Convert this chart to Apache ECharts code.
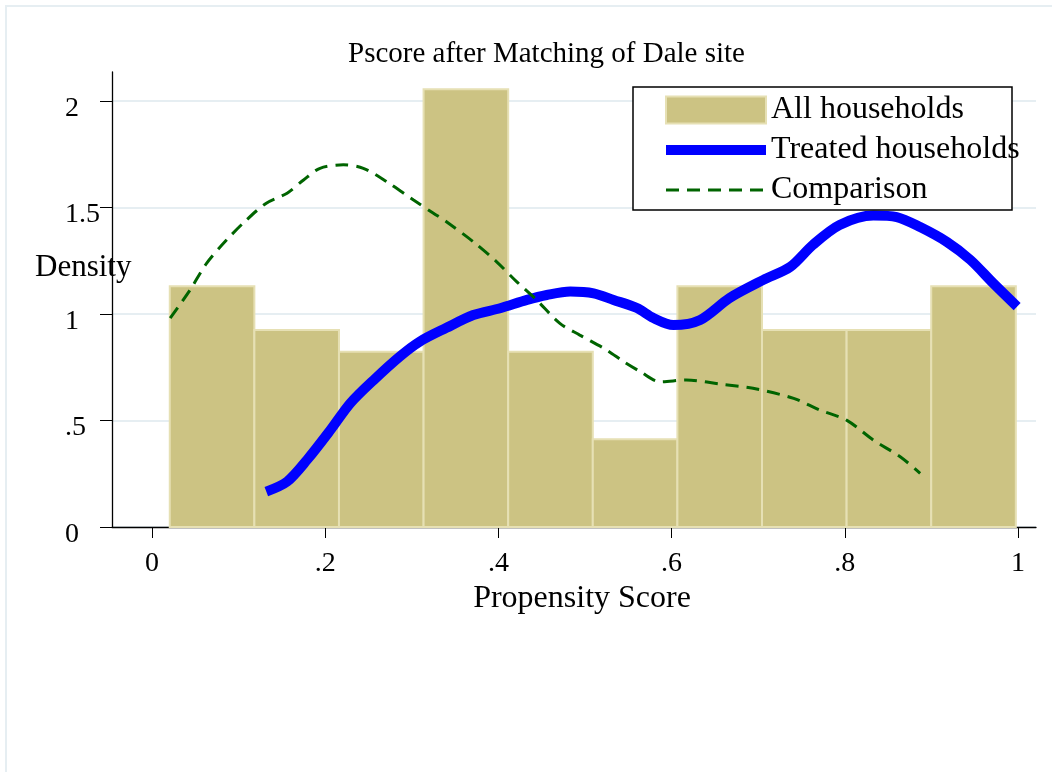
<!DOCTYPE html>
<html>
<head>
<meta charset="utf-8">
<script src="https://cdn.jsdelivr.net/npm/echarts@6/dist/echarts.min.js"></script>
<style>
  html, body { margin: 0; padding: 0; background: #ffffff; }
  #chart { width: 1052px; height: 772px; }
</style>
</head>
<body>
<div id="chart"></div>
<script>
// Histogram of the propensity score (10 bins, density scale)
const binEdges = [0.0205, 0.1182, 0.2159, 0.3136, 0.4113, 0.5090, 0.6067, 0.7044, 0.8021, 0.8998, 0.9975];
const binDensity = [1.13, 0.925, 0.823, 2.055, 0.823, 0.412, 1.13, 0.925, 0.925, 1.13];

// Kernel density of the score among treated households
const treatedCurve = [
  [0.132, 0.166], [0.156, 0.213], [0.179, 0.315], [0.206, 0.455], [0.229, 0.581],
  [0.256, 0.690], [0.286, 0.800], [0.309, 0.870], [0.340, 0.935], [0.371, 0.995],
  [0.402, 1.027], [0.433, 1.066], [0.456, 1.089], [0.483, 1.105], [0.510, 1.097],
  [0.533, 1.066], [0.560, 1.028], [0.579, 0.981], [0.602, 0.948], [0.633, 0.972],
  [0.667, 1.075], [0.706, 1.160], [0.737, 1.221], [0.763, 1.324], [0.794, 1.418],
  [0.833, 1.462], [0.860, 1.455], [0.887, 1.408], [0.918, 1.338], [0.945, 1.254],
  [0.971, 1.146], [0.999, 1.035]
];

// Kernel density of the score among comparison households
const comparisonCurve = [
  [0.021, 0.980], [0.044, 1.113], [0.063, 1.238], [0.086, 1.347], [0.109, 1.441],
  [0.132, 1.520], [0.156, 1.567], [0.175, 1.629], [0.194, 1.684], [0.221, 1.700],
  [0.244, 1.684], [0.271, 1.621], [0.302, 1.535], [0.325, 1.473], [0.340, 1.433],
  [0.371, 1.339], [0.398, 1.245], [0.421, 1.152], [0.444, 1.066], [0.471, 0.956],
  [0.494, 0.901], [0.525, 0.831], [0.545, 0.775], [0.564, 0.729], [0.587, 0.682],
  [0.617, 0.690], [0.656, 0.671], [0.694, 0.651], [0.741, 0.604], [0.771, 0.549],
  [0.802, 0.502], [0.833, 0.408], [0.864, 0.330], [0.887, 0.252]
];

const xTicks = [0, 0.2, 0.4, 0.6, 0.8, 1];
const xTickLabels = ['0', '.2', '.4', '.6', '.8', '1'];
const yTicks = [0, 0.5, 1, 1.5, 2];
const yTickLabels = ['0', '.5', '1', '1.5', '2'];

const FONT = 'Liberation Serif, Times New Roman, serif';
const BAR_FILL = '#ccc383';
const BAR_EDGE = '#e6e0b4';
const GRID_COLOR = '#e6eef2';

function labelFor(ticks, labels) {
  return function (v) {
    for (let i = 0; i < ticks.length; i++) {
      if (Math.abs(ticks[i] - v) < 1e-6) return labels[i];
    }
    return '';
  };
}

const histData = binDensity.map((d, i) => [binEdges[i], binEdges[i + 1], d]);

const chart = echarts.init(document.getElementById('chart'), null, { renderer: 'canvas' });

chart.setOption({
  backgroundColor: '#ffffff',
  animation: false,
  title: {
    text: 'Pscore after Matching of Dale site',
    left: 348,
    top: 40,
    padding: 0,
    textStyle: { fontFamily: FONT, fontSize: 29, fontWeight: 'normal', color: '#000' }
  },
  grid: { left: 112, right: 16, top: 72, bottom: 245, containLabel: false },
  xAxis: {
    type: 'value',
    min: -0.0462,
    max: 1.0208,
    name: 'Propensity Score',
    nameLocation: 'middle',
    nameGap: 41,
    nameTextStyle: { fontFamily: FONT, fontSize: 32, color: '#000', padding: [0, 0, 0, 16] },
    axisLine: { show: true, onZero: false, lineStyle: { color: '#000', width: 1.3 } },
    axisTick: { show: true, inside: false, length: 11, customValues: xTicks, lineStyle: { color: '#000', width: 1 } },
    axisLabel: {
      customValues: xTicks,
      margin: 23,
      fontFamily: FONT, fontSize: 28, color: '#000',
      formatter: labelFor(xTicks, xTickLabels)
    },
    splitLine: { show: false }
  },
  yAxis: {
    type: 'value',
    min: 0,
    max: 2.136,
    axisLine: { show: true, onZero: false, lineStyle: { color: '#000', width: 1.3 } },
    axisTick: { show: true, inside: false, length: 12, customValues: yTicks, lineStyle: { color: '#000', width: 1 } },
    axisLabel: {
      customValues: yTicks,
      margin: 47,
      align: 'left',
      verticalAlign: 'top',
      lineHeight: 15,
      fontFamily: FONT, fontSize: 28, color: '#000',
      formatter: labelFor(yTicks, yTickLabels)
    },
    splitLine: { show: true, lineStyle: { color: GRID_COLOR, width: 2 } }
  },
  legend: {
    orient: 'vertical',
    left: 661,
    top: 94,
    padding: 0,
    itemGap: 8,
    itemWidth: 100,
    itemHeight: 27,
    z: 10,
    textStyle: { fontFamily: FONT, fontSize: 32, color: '#000' },
    lineStyle: { width: 'inherit' },
    data: [
      { name: 'All households', icon: 'rect', itemStyle: { color: BAR_FILL, borderColor: BAR_EDGE, borderWidth: 2 } },
      { name: 'Treated households', itemStyle: { opacity: 0 } },
      { name: 'Comparison', itemStyle: { opacity: 0 } }
    ]
  },
  graphic: {
    elements: [
      {
        type: 'rect',
        z: 0,
        silent: true,
        shape: { x: 6, y: 6, width: 1200, height: 900 },
        style: { fill: 'none', stroke: GRID_COLOR, lineWidth: 2 }
      },
      {
        type: 'rect',
        z: 9,
        silent: true,
        shape: { x: 633, y: 87, width: 379, height: 123 },
        style: { fill: '#ffffff', stroke: '#000000', lineWidth: 1.5 }
      },
      {
        type: 'text',
        z: 5,
        silent: true,
        x: 35,
        y: 268,
        style: {
          text: 'Density',
          fontFamily: FONT,
          fontSize: 31,
          fill: '#000',
          align: 'left',
          verticalAlign: 'middle'
        }
      }
    ]
  },
  series: [
    {
      name: 'All households',
      type: 'custom',
      z: 1,
      itemStyle: { color: BAR_FILL },
      encode: { x: [0, 1], y: 2 },
      data: histData,
      renderItem: function (params, api) {
        const p0 = api.coord([api.value(0), api.value(2)]);
        const p1 = api.coord([api.value(1), 0]);
        return {
          type: 'rect',
          shape: { x: p0[0], y: p0[1], width: p1[0] - p0[0], height: p1[1] - p0[1] },
          style: { fill: BAR_FILL, stroke: BAR_EDGE, lineWidth: 2 }
        };
      }
    },
    {
      name: 'Treated households',
      type: 'line',
      z: 3,
      symbol: 'none',
      smooth: 0.3,
      data: treatedCurve,
      lineStyle: { color: '#0000ff', width: 10, cap: 'butt', join: 'round' },
      itemStyle: { color: '#0000ff' }
    },
    {
      name: 'Comparison',
      type: 'line',
      z: 4,
      symbol: 'none',
      smooth: 0.3,
      data: comparisonCurve,
      lineStyle: { color: '#006400', width: 3, type: [13, 8] },
      itemStyle: { color: '#006400' }
    }
  ]
});
</script>
</body>
</html>
